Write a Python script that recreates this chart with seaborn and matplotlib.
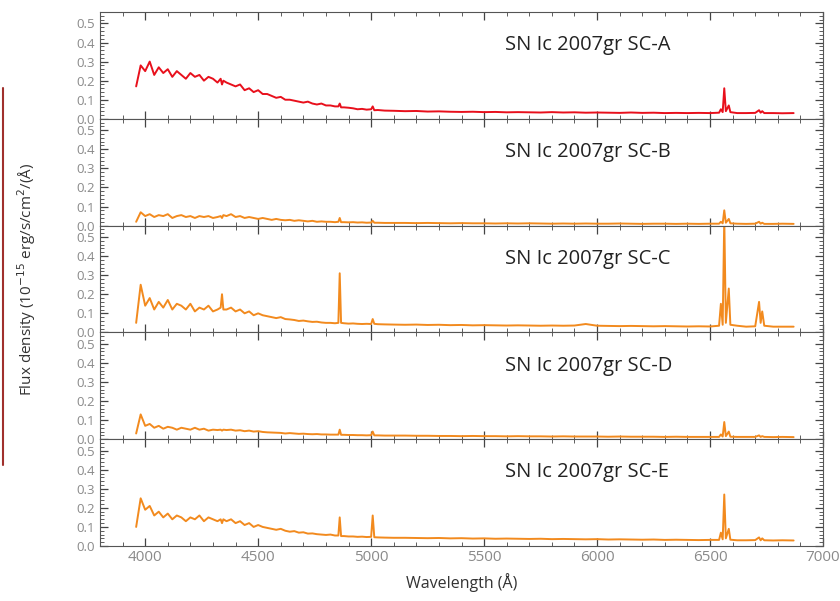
import matplotlib
matplotlib.use("Agg")
import matplotlib.pyplot as plt
from matplotlib.ticker import MultipleLocator
from matplotlib.lines import Line2D
import seaborn as sns
import pandas as pd

# ---------------- data ----------------
wavelength = [3960, 3980, 4000, 4020, 4040, 4060, 4080, 4100, 4120, 4140, 4160, 4180, 4200, 4220, 4240, 4260,
              4280, 4300, 4320, 4334, 4340, 4346, 4360, 4380, 4400, 4420, 4440, 4460, 4480, 4500, 4520, 4540,
              4560, 4580, 4600, 4620, 4640, 4660, 4680, 4700, 4720, 4740, 4760, 4780, 4800, 4820, 4840,
              4855, 4861, 4867, 4880, 4900, 4920, 4940, 4960, 4980, 5000, 5007, 5014, 5030, 5060, 5100,
              5150, 5200, 5250, 5300, 5350, 5400, 5450, 5500, 5550, 5600, 5650, 5700, 5750, 5800, 5850,
              5900, 5950, 6000, 6050, 6100, 6150, 6200, 6250, 6300, 6350, 6400, 6450, 6500,
              6540, 6548, 6556, 6563, 6570, 6583, 6590, 6620, 6660, 6700, 6717, 6724, 6731, 6740, 6780,
              6820, 6870]

flux_A = [0.17, 0.28, 0.25, 0.30, 0.23, 0.27, 0.24, 0.26, 0.22, 0.25, 0.23, 0.21, 0.24, 0.22, 0.23, 0.20,
          0.22, 0.21, 0.19, 0.21, 0.18, 0.20,
          0.19, 0.18, 0.17, 0.18, 0.15, 0.16, 0.14, 0.15, 0.13, 0.13, 0.12, 0.11, 0.115, 0.10, 0.10, 0.095,
          0.09, 0.085, 0.09, 0.08, 0.075, 0.08, 0.07, 0.07, 0.065,
          0.065, 0.08, 0.06, 0.06, 0.058, 0.055, 0.05, 0.052, 0.048, 0.05,
          0.065, 0.045, 0.046, 0.043, 0.042,
          0.04, 0.041, 0.038, 0.039, 0.037, 0.036, 0.037, 0.035, 0.036, 0.034, 0.035, 0.034, 0.033, 0.035,
          0.033, 0.034, 0.032, 0.033, 0.032, 0.031, 0.033, 0.031, 0.032, 0.030, 0.031, 0.030, 0.031, 0.030,
          0.032, 0.05, 0.035, 0.16, 0.04, 0.07, 0.035, 0.03, 0.03, 0.031, 0.045, 0.032, 0.04, 0.03, 0.03,
          0.029, 0.03]

flux_B = [0.02, 0.07, 0.05, 0.06, 0.045, 0.055, 0.05, 0.06, 0.04, 0.05, 0.055, 0.045, 0.05, 0.04, 0.05, 0.045,
          0.05, 0.04, 0.045, 0.05, 0.04, 0.055,
          0.05, 0.06, 0.045, 0.05, 0.04, 0.045, 0.04, 0.035, 0.04, 0.035, 0.03, 0.035, 0.03, 0.028, 0.03,
          0.025, 0.028, 0.025, 0.022, 0.025, 0.02, 0.022, 0.02, 0.02, 0.018,
          0.02, 0.04, 0.018, 0.018, 0.017, 0.018, 0.016, 0.017, 0.015, 0.016,
          0.025, 0.015, 0.015, 0.014, 0.014,
          0.014, 0.013, 0.014, 0.013, 0.012, 0.013, 0.012, 0.012, 0.011, 0.012, 0.011, 0.012, 0.011, 0.010,
          0.011, 0.010, 0.011, 0.010, 0.010, 0.011, 0.010, 0.009, 0.010, 0.010, 0.009, 0.010, 0.009, 0.010,
          0.01, 0.02, 0.012, 0.08, 0.015, 0.035, 0.012, 0.01, 0.009, 0.01, 0.02, 0.01, 0.015, 0.009, 0.009,
          0.01, 0.009]

flux_C = [0.05, 0.25, 0.14, 0.18, 0.12, 0.16, 0.13, 0.17, 0.12, 0.15, 0.14, 0.12, 0.15, 0.11, 0.13, 0.12,
          0.14, 0.11, 0.12, 0.13, 0.20, 0.12,
          0.12, 0.13, 0.11, 0.12, 0.10, 0.11, 0.09, 0.10, 0.09, 0.085, 0.08, 0.075, 0.08, 0.07, 0.068,
          0.065, 0.06, 0.062, 0.058, 0.055, 0.056, 0.052, 0.05, 0.05, 0.048,
          0.05, 0.31, 0.05, 0.048, 0.046, 0.047, 0.045, 0.044, 0.045, 0.044,
          0.07, 0.045, 0.043, 0.042, 0.041,
          0.04, 0.041, 0.039, 0.04, 0.038, 0.039, 0.037, 0.038, 0.037, 0.036, 0.037, 0.036, 0.035, 0.036,
          0.035, 0.036, 0.044, 0.035, 0.034, 0.033, 0.034, 0.033, 0.032, 0.033, 0.032, 0.031, 0.032, 0.031,
          0.035, 0.15, 0.04, 0.60, 0.05, 0.23, 0.04, 0.035, 0.03, 0.032, 0.16, 0.05, 0.11, 0.035, 0.03,
          0.03, 0.03]

flux_D = [0.03, 0.13, 0.07, 0.08, 0.06, 0.07, 0.055, 0.065, 0.06, 0.05, 0.06, 0.055, 0.05, 0.06, 0.05, 0.055,
          0.045, 0.05, 0.048, 0.05, 0.045, 0.05,
          0.048, 0.05, 0.045, 0.047, 0.042, 0.045, 0.04, 0.042, 0.038, 0.036, 0.035, 0.034, 0.033, 0.03,
          0.032, 0.03, 0.028, 0.029, 0.027, 0.026, 0.027, 0.025, 0.025, 0.024, 0.024,
          0.024, 0.05, 0.023, 0.023, 0.022, 0.022, 0.021, 0.021, 0.02, 0.021,
          0.04, 0.02, 0.02, 0.019, 0.019,
          0.019, 0.018, 0.018, 0.017, 0.017, 0.016, 0.017, 0.016, 0.016, 0.015, 0.016, 0.015, 0.015, 0.014,
          0.015, 0.014, 0.014, 0.014, 0.013, 0.014, 0.013, 0.013, 0.013, 0.012, 0.013, 0.012, 0.012, 0.012,
          0.012, 0.025, 0.014, 0.09, 0.016, 0.04, 0.013, 0.012, 0.012, 0.012, 0.02, 0.012, 0.016, 0.012,
          0.011, 0.012, 0.011]

flux_E = [0.10, 0.25, 0.19, 0.21, 0.16, 0.18, 0.15, 0.17, 0.14, 0.16, 0.15, 0.13, 0.15, 0.14, 0.16, 0.13,
          0.15, 0.14, 0.13, 0.14, 0.12, 0.14,
          0.13, 0.14, 0.12, 0.13, 0.11, 0.12, 0.10, 0.11, 0.10, 0.095, 0.09, 0.085, 0.09, 0.08, 0.075,
          0.078, 0.07, 0.072, 0.065, 0.066, 0.062, 0.06, 0.058, 0.06, 0.055,
          0.055, 0.15, 0.052, 0.052, 0.05, 0.05, 0.048, 0.049, 0.047, 0.048,
          0.16, 0.046, 0.045, 0.044, 0.043,
          0.043, 0.042, 0.041, 0.042, 0.04, 0.041, 0.039, 0.04, 0.038, 0.039, 0.038, 0.037, 0.038, 0.036,
          0.037, 0.036, 0.035, 0.036, 0.034, 0.035, 0.034, 0.033, 0.034, 0.032, 0.033, 0.032, 0.031, 0.032,
          0.032, 0.07, 0.035, 0.27, 0.04, 0.09, 0.033, 0.03, 0.03, 0.031, 0.045, 0.03, 0.04, 0.03, 0.029,
          0.03, 0.029]

panel_labels = ["SN Ic 2007gr SC-A", "SN Ic 2007gr SC-B", "SN Ic 2007gr SC-C",
                "SN Ic 2007gr SC-D", "SN Ic 2007gr SC-E"]
panel_flux = [flux_A, flux_B, flux_C, flux_D, flux_E]
panel_colors = ["#e8101c", "#f28a1e", "#f28a1e", "#f28a1e", "#f28a1e"]
x_ticks = [4000, 4500, 5000, 5500, 6000, 6500, 7000]
y_ticks = [0.0, 0.1, 0.2, 0.3, 0.4, 0.5]

# ---------------- plot ----------------
sns.set_style("ticks")
plt.rcParams['font.family'] = ['Open Sans', 'DejaVu Sans']

fig = plt.figure(figsize=(8.4, 6.01), dpi=100)
left, right, top, bottom = 100 / 840, 823 / 840, 1 - 12 / 601, 1 - 546 / 601
h = (top - bottom) / 5
for i in range(5):
    ax = fig.add_axes([left, top - (i + 1) * h, right - left, h])
    df = pd.DataFrame({"wavelength": wavelength, "flux": panel_flux[i]})
    sns.lineplot(data=df, x="wavelength", y="flux", ax=ax, color=panel_colors[i],
                 linewidth=1.4, estimator=None, sort=False)
    ax.set_xlim(3800, 7000)
    ax.set_ylim(0, 0.56)
    ax.set_xticks(x_ticks)
    ax.xaxis.set_minor_locator(MultipleLocator(100))
    ax.set_yticks(y_ticks)
    ax.yaxis.set_minor_locator(MultipleLocator(0.02))
    ax.tick_params(which="both", direction="in", top=True, right=True, color="#444444",
                   labelcolor="#8a8a8a", labelsize=9.5)
    ax.tick_params(which="major", length=6, width=0.9)
    ax.tick_params(which="minor", length=3, width=0.6)
    ax.set_yticklabels([f"{v:.1f}" for v in y_ticks])
    for s in ax.spines.values():
        s.set_color("#555555")
        s.set_linewidth(0.8)
    ax.set_ylabel("")
    ax.set_xlabel("")
    if i < 4:
        ax.set_xticklabels([])
    else:
        ax.set_xticklabels([str(t) for t in x_ticks])
        ax.tick_params(axis="x", labelsize=11, pad=3)
        ax.set_xlabel("Wavelength (Å)", fontsize=11.5, color="#333333", labelpad=6)
    ax.text(0.56, 0.69, panel_labels[i], transform=ax.transAxes, fontsize=14.5,
            color="#222222", ha="left", va="center")

fig.text(0.032, 0.535, "Flux density (10$^{-15}$ erg/s/cm$^2$/(Å)", rotation=90,
         ha="center", va="center", fontsize=11, color="#333333")
fig.add_artist(Line2D([0.003, 0.003], [1 - 88 / 601, 1 - 465 / 601], color="#a0302c",
                      linewidth=1.5, transform=fig.transFigure))

fig.savefig("out.png", dpi=100)
